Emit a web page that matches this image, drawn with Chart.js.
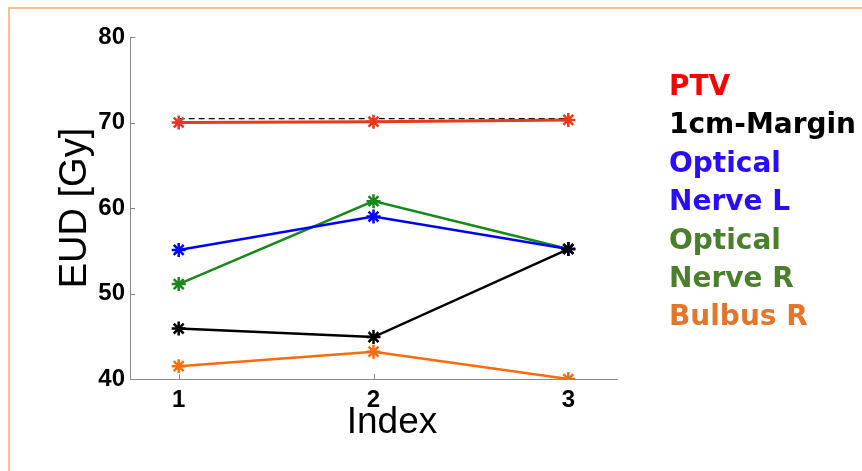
<!DOCTYPE html>
<html>
<head>
<meta charset="utf-8">
<script src="https://cdn.jsdelivr.net/npm/chart.js@4.4.1/dist/chart.umd.min.js"></script>
<style>
  html, body { margin: 0; padding: 0; background: #fff; overflow: hidden; }
  #wrap { position: relative; width: 862px; height: 471px; }
  #frame { position: absolute; left: 8px; top: 7px; width: 900px; height: 500px;
           border-top: 2px solid #f9c193; border-left: 2px solid #f9c193; }
  canvas { position: absolute; left: 0; top: 0; }
</style>
</head>
<body>
<div id="wrap">
  <div id="frame"></div>
  <canvas id="eudChart" width="862" height="471"></canvas>
</div>
<script>
// values
const indexValues = [1, 2, 3];
const ptv       = [70.0, 70.1, 70.3];
const ptvRef    = [70.45, 70.45, 70.45];
const margin1cm = [45.9, 44.9, 55.2];
const nerveL    = [55.1, 59.0, 55.2];
const nerveR    = [51.1, 60.8, 55.2];
const bulbusR   = [41.5, 43.2, 40.0];
const yTicks    = [40, 50, 60, 70, 80];

const legendLines  = ['PTV', '1cm-Margin', 'Optical', 'Nerve L', 'Optical', 'Nerve R', 'Bulbus R'];
const legendColors = ['#ff0000', '#000000', '#2a0cff', '#2a0cff', '#4b7f2c', '#4b7f2c', '#e4762a'];

function toPoints(vals) {
    return indexValues.map((x, i) => ({ x: x, y: vals[i] }));
}

function series(vals, color, width) {
    return {
        data: toPoints(vals),
        borderColor: color,
        backgroundColor: color,
        borderWidth: width,
        pointStyle: 'star',
        pointRadius: 7,
        pointBorderWidth: 2.5,
        pointBorderColor: color,
        pointHoverRadius: 7,
        fill: false,
        tension: 0
    };
}

// inward MATLAB-style tick marks
const innerTicks = {
    id: 'innerTicks',
    afterDraw(chart) {
        const ctx = chart.ctx;
        const xs = chart.scales.x, ys = chart.scales.y;
        const area = chart.chartArea;
        ctx.save();
        ctx.strokeStyle = '#8a8a8a';
        ctx.lineWidth = 1;
        ctx.beginPath();
        yTicks.forEach(v => {
            const py = Math.round(ys.getPixelForValue(v)) + 0.5;
            ctx.moveTo(area.left, py);
            ctx.lineTo(area.left + 5, py);
        });
        indexValues.forEach(v => {
            const px = Math.round(xs.getPixelForValue(v)) + 0.5;
            ctx.moveTo(px, area.bottom);
            ctx.lineTo(px, area.bottom - 5);
        });
        ctx.stroke();

        // x axis label, sits a bit right of the axis centre in the original
        ctx.fillStyle = '#000';
        ctx.font = "37px 'Liberation Sans', Arial";
        ctx.textAlign = 'center';
        ctx.textBaseline = 'alphabetic';
        ctx.fillText('Index', 392, 433);
        ctx.restore();
    }
};

const sideLegend = {
    id: 'sideLegend',
    afterDraw(chart) {
        const ctx = chart.ctx;
        ctx.save();
        ctx.font = "bold 28px 'DejaVu Sans'";
        ctx.textBaseline = 'alphabetic';
        ctx.textAlign = 'left';
        legendLines.forEach((t, i) => {
            ctx.fillStyle = legendColors[i];
            ctx.fillText(t, 669, 95 + i * 38.4);
        });
        ctx.restore();
    }
};

const ptvSet = series(ptv, '#e8391d', 3);
const refSet = {
    data: toPoints(ptvRef),
    borderColor: '#000000',
    borderWidth: 1.3,
    borderDash: [6, 4],
    pointRadius: 0,
    fill: false
};

new Chart(document.getElementById('eudChart').getContext('2d'), {
    type: 'line',
    data: {
        datasets: [
            ptvSet,
            series(margin1cm, '#000000', 2.5),
            series(nerveL, '#0000ff', 2.5),
            series(nerveR, '#16891a', 2.5),
            series(bulbusR, '#ff6a0a', 2.5),
            refSet
        ]
    },
    options: {
        responsive: false,
        animation: false,
        layout: { padding: { top: 37, right: 245, left: 0, bottom: 0 } },
        plugins: { legend: { display: false }, tooltip: { enabled: false } },
        scales: {
            x: {
                type: 'linear',
                min: 0.75,
                max: 3.25,
                afterBuildTicks: s => { s.ticks = indexValues.map(v => ({ value: v })); },
                afterFit: s => { s.height = 92; },
                grid: { display: false, drawTicks: false },
                border: { color: '#8a8a8a', width: 1 },
                ticks: {
                    padding: 7,
                    color: '#000',
                    font: { family: "'Liberation Sans', Arial", size: 24, weight: 'bold' }
                },
                title: { display: false }
            },
            y: {
                min: 40,
                max: 80,
                afterBuildTicks: s => { s.ticks = yTicks.map(v => ({ value: v })); },
                afterFit: s => { s.width = 130; },
                grid: { display: false, drawTicks: false },
                border: { color: '#8a8a8a', width: 1 },
                ticks: {
                    padding: 5,
                    color: '#000',
                    font: { family: "'Liberation Sans', Arial", size: 24, weight: 'bold' }
                },
                title: {
                    display: true,
                    text: 'EUD [Gy]',
                    color: '#000',
                    padding: { top: 53, bottom: 0 },
                    font: { family: "'Liberation Sans', Arial", size: 38 }
                }
            }
        }
    },
    plugins: [innerTicks, sideLegend]
});
</script>
</body>
</html>
